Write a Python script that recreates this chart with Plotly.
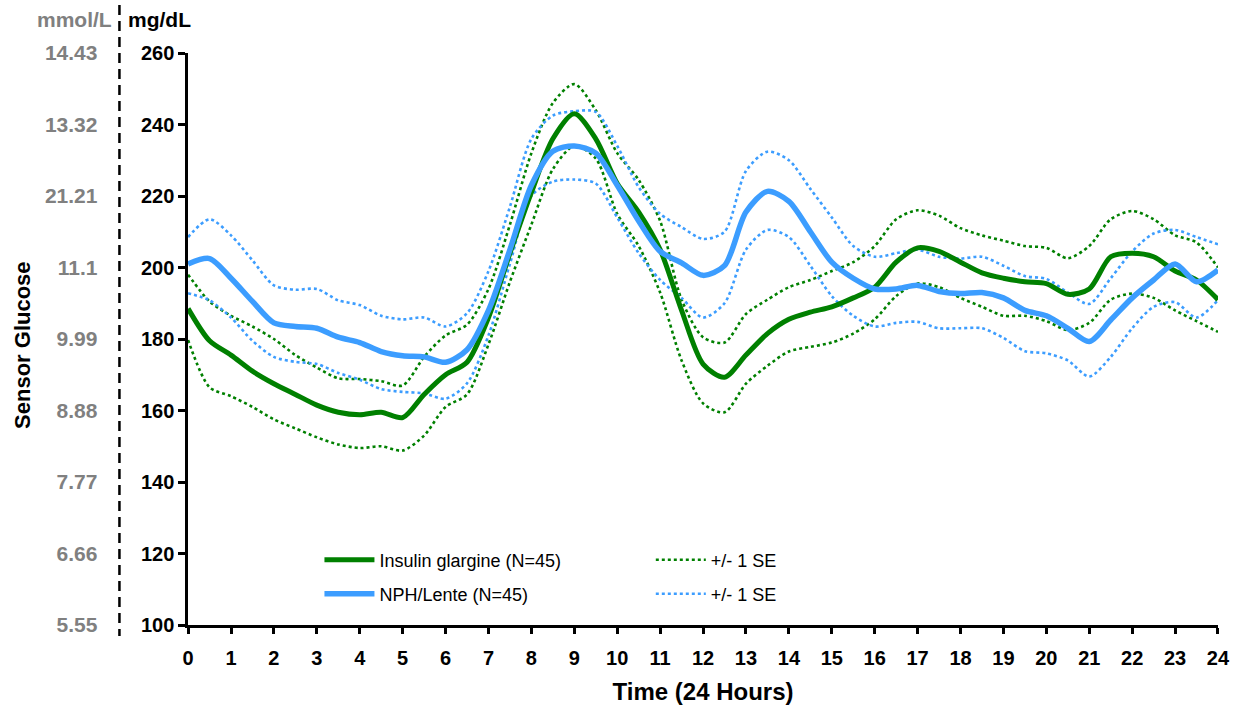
import plotly.graph_objects as go

# Hours of the day (half-hourly sensor readings)
hours = [i * 0.5 for i in range(49)]

# Mean sensor glucose, mg/dL
glargine_mean = [188.5, 179.5, 175.5, 171, 167.5, 164.5, 161.5, 159.5, 158.8, 159.5,
                 158, 164.5, 170, 173.5, 186, 204, 221, 236, 243, 236,
                 223.5, 215.5, 205, 188, 173, 169.3, 175.5, 181.5, 185.5, 187.5,
                 189, 191.5, 194.5, 201.5, 205.5, 204.5, 201.5, 198.5, 197, 196,
                 195.5, 192.5, 194, 203, 204, 203, 199, 196.5, 191]
nph_mean = [201, 202.5, 197, 190.5, 184.5, 183.5, 183, 180.5, 179, 176.5,
            175.3, 175, 173.5, 177, 188, 205, 223, 232.5, 234, 232,
            223, 213, 204.5, 201.3, 197.8, 200.5, 215.5, 221.3, 218.5, 210,
            201.5, 197, 194, 194, 195, 193.3, 192.7, 193, 191.5, 188,
            186.5, 183, 179.3, 185.3, 191.5, 196.5, 201, 196, 199.3]

# Mean +/- 1 SE bands
glargine_upper = [198, 190.5, 186.5, 183.5, 180, 175.5, 172, 169, 168.8, 168.2,
                  167, 175, 181, 184, 194, 212, 232, 246, 251.3, 244,
                  232, 224.5, 213, 191, 180.5, 179, 187, 191, 194.5, 196.5,
                  199, 201.5, 206, 213.5, 216, 214.5, 211, 209, 207.5, 206,
                  205.5, 202.6, 206, 213.5, 215.8, 213.5, 209, 207, 200]
glargine_lower = [179.7, 166.5, 164, 161, 157.5, 155, 152.5, 150.5, 149.5, 150,
                  148.8, 153, 161, 164.5, 178.5, 196, 212, 227.5, 234, 230.5,
                  215, 206, 193, 174, 162, 159.5, 167.5, 172.5, 176.5, 177.8,
                  179, 181.5, 185.5, 192, 195.5, 194.5, 191.5, 189, 186.5, 186.5,
                  185, 182.5, 184.5, 191, 192.7, 191.5, 188, 185, 182]
nph_upper = [208.5, 213.5, 209, 202, 195, 193.8, 194, 190.8, 189.5, 186.5,
             185.5, 186, 183.5, 187.2, 199, 217, 236, 242.5, 243.7, 243.5,
             234, 222.5, 215, 211.3, 208, 210, 227, 232.4, 230, 222,
             214, 206, 203, 204, 205, 203, 202.5, 203, 200.5, 197.6,
             196.8, 193, 189.8, 197, 204.5, 209.5, 210.5, 208.5, 206.5]
nph_lower = [192.8, 190.8, 186, 179.5, 175, 173.6, 173, 170.5, 168.6, 166,
             165.2, 164.8, 163.3, 167.6, 181, 201, 220, 224, 224.6, 223.5,
             214, 204, 196.5, 191.5, 186, 190, 205, 210.5, 208.5, 200.5,
             192, 186.5, 183.5, 184.5, 184.8, 183, 183, 183, 180.3, 176.6,
             176, 174, 169.5, 175, 183, 189, 190.3, 186, 190.9]

# Axis ticks
x_ticks = list(range(25))
mgdl_ticks = [100, 120, 140, 160, 180, 200, 220, 240, 260]
mmol_labels = ["5.55", "6.66", "7.77", "8.88", "9.99", "11.1", "21.21", "13.32", "14.43"]

GREEN = "rgb(0,128,0)"
BLUE = "rgb(60,157,255)"
FONT = "Arial, Liberation Sans, sans-serif"

W, H = 1241, 713
ML, MR, MT, MB = 0, 23, 53, 88
PW = W - ML - MR
PH = H - MT - MB


def px_x(px):
    return (px - ML) / PW


def px_y(py):
    return (H - MB - py) / PH


fig = go.Figure()

# Standard error bands (dotted)
fig.add_trace(go.Scatter(x=hours, y=glargine_upper, mode="lines", name="+/- 1 SE",
                         line=dict(color=GREEN, width=2.6, dash="dot", shape="spline", smoothing=0.8),
                         legend="legend2"))
fig.add_trace(go.Scatter(x=hours, y=glargine_lower, mode="lines", showlegend=False,
                         line=dict(color=GREEN, width=2.6, dash="dot", shape="spline", smoothing=0.8)))
fig.add_trace(go.Scatter(x=hours, y=nph_upper, mode="lines", name="+/- 1 SE",
                         line=dict(color=BLUE, width=2.6, dash="dot", shape="spline", smoothing=0.8),
                         legend="legend4"))
fig.add_trace(go.Scatter(x=hours, y=nph_lower, mode="lines", showlegend=False,
                         line=dict(color=BLUE, width=2.6, dash="dot", shape="spline", smoothing=0.8)))

# Mean curves
fig.add_trace(go.Scatter(x=hours, y=glargine_mean, mode="lines", name="Insulin glargine (N=45)",
                         line=dict(color=GREEN, width=5, shape="spline", smoothing=0.8),
                         legend="legend"))
fig.add_trace(go.Scatter(x=hours, y=nph_mean, mode="lines", name="NPH/Lente (N=45)",
                         line=dict(color=BLUE, width=5.5, shape="spline", smoothing=0.8),
                         legend="legend3"))

# Secondary mmol/L scale (labels only)
fig.add_trace(go.Scatter(x=[0], y=[100], yaxis="y2", mode="markers",
                         marker=dict(opacity=0), showlegend=False, hoverinfo="skip"))

legend_font = dict(family=FONT, size=18, color="black")


def legend_at(px, py):
    return dict(x=px_x(px), y=px_y(py), xanchor="left", yanchor="middle",
                bgcolor="rgba(0,0,0,0)", font=legend_font, itemwidth=50)


fig.update_layout(
    width=W, height=H,
    margin=dict(l=ML, r=MR, t=MT, b=MB),
    paper_bgcolor="white", plot_bgcolor="white",
    font=dict(family=FONT, color="black"),
    xaxis=dict(domain=[px_x(183), 1], range=[0, 24], tickvals=x_ticks,
               showgrid=False, zeroline=False, showline=True, linecolor="black", linewidth=2.5,
               ticks="outside", ticklen=6, tickwidth=2.5, tickcolor="black",
               ticklabelstandoff=7,
               tickfont=dict(family=FONT, size=20, color="black", weight="bold"),
               title=dict(text="<b>Time (24 Hours)</b>", font=dict(family=FONT, size=24, color="black"),
                          standoff=16)),
    yaxis=dict(range=[100, 260], tickvals=mgdl_ticks,
               showgrid=False, zeroline=False, showline=True, linecolor="black", linewidth=2.5,
               ticks="outside", ticklen=7, tickwidth=2.5, tickcolor="black",
               tickfont=dict(family=FONT, size=20, color="black", weight="bold")),
    yaxis2=dict(range=[100, 260], tickvals=mgdl_ticks, ticktext=mmol_labels,
                overlaying="y", anchor="free", position=px_x(114), side="left",
                showgrid=False, zeroline=False, showline=False, ticks="",
                ticklabelstandoff=22,
                tickfont=dict(family=FONT, size=21, color="rgb(128,128,128)", weight="bold")),
    legend=legend_at(315, 560),
    legend2=legend_at(648, 560),
    legend3=legend_at(315, 594),
    legend4=legend_at(648, 594),
    showlegend=True,
)

# Dashed divider between the two unit scales
fig.add_shape(type="line", xref="paper", yref="paper",
              x0=px_x(114), x1=px_x(114), y0=px_y(5), y1=px_y(636),
              line=dict(color="black", width=2.5, dash="10px,6px"))

# Unit headers and the shared y title
fig.add_annotation(text="<b>mmol/L</b>", xref="paper", yref="paper", x=px_x(109), y=px_y(19),
                   xanchor="right", yanchor="middle", showarrow=False,
                   font=dict(family=FONT, size=21, color="rgb(128,128,128)"))
fig.add_annotation(text="<b>mg/dL</b>", xref="paper", yref="paper", x=px_x(121), y=px_y(19),
                   xanchor="left", yanchor="middle", showarrow=False,
                   font=dict(family=FONT, size=21, color="black"))
fig.add_annotation(text="<b>Sensor Glucose</b>", xref="paper", yref="paper", x=px_x(17), y=px_y(345),
                   xanchor="center", yanchor="middle", showarrow=False, textangle=-90,
                   font=dict(family=FONT, size=22, color="black"))

fig.write_html("out.html")
